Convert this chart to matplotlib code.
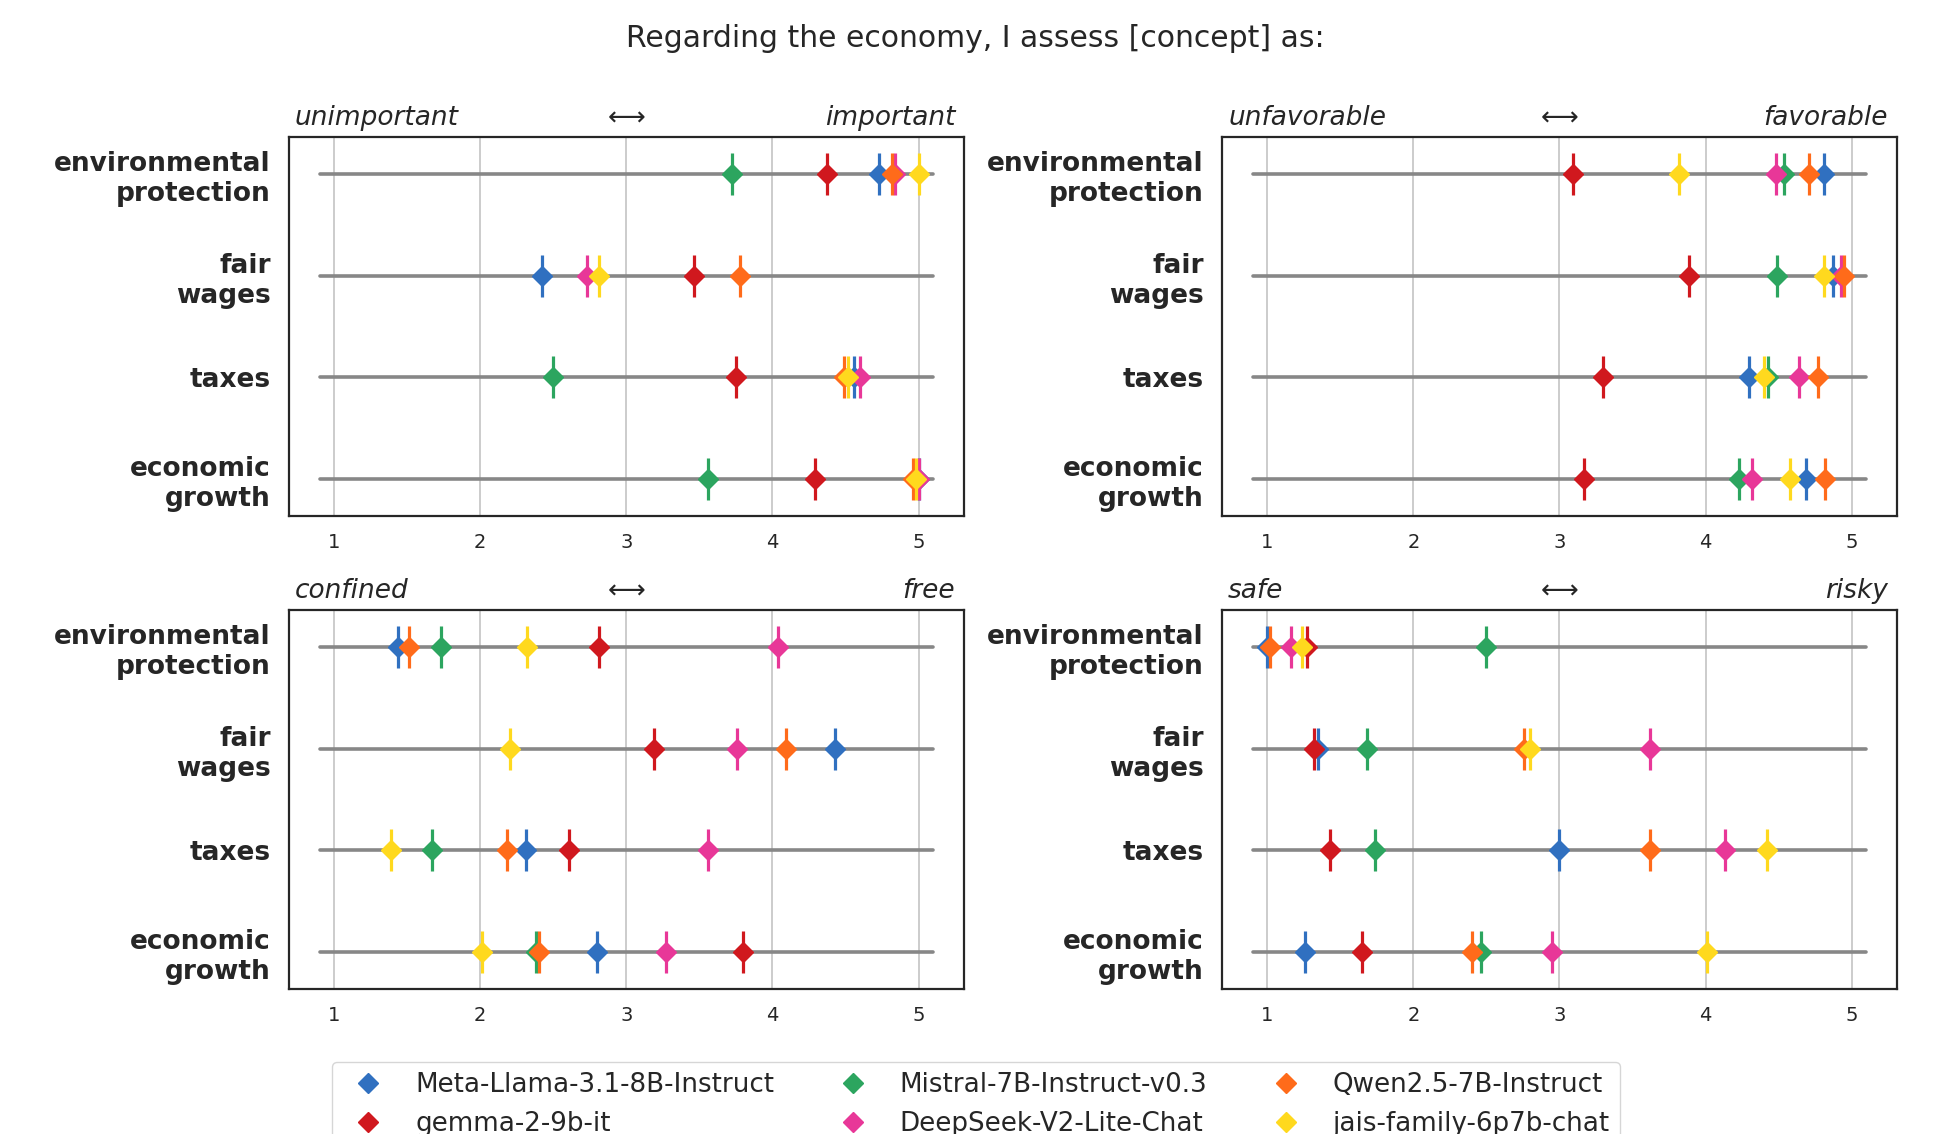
import numpy as np
import matplotlib
matplotlib.use("Agg")
import matplotlib.pyplot as plt
from matplotlib.lines import Line2D

plt.rcParams['font.family'] = ['DejaVu Sans']
plt.rcParams['text.color'] = '#262626'
plt.rcParams['xtick.color'] = '#262626'
plt.rcParams['ytick.color'] = '#262626'

TITLE = "Regarding the economy, I assess [concept] as:"

concepts = ["environmental\nprotection", "fair\nwages", "taxes", "economic\ngrowth"]

models = [
    "Meta-Llama-3.1-8B-Instruct",
    "gemma-2-9b-it",
    "Mistral-7B-Instruct-v0.3",
    "DeepSeek-V2-Lite-Chat",
    "Qwen2.5-7B-Instruct",
    "jais-family-6p7b-chat",
]
model_colors = ["#3070C0", "#D0181E", "#2CA55F", "#E83798", "#FF6B1A", "#FFD91E"]

# Mean ratings per model, in concept order (1-5 scale)
importance = {
    "Meta-Llama-3.1-8B-Instruct": [4.73, 2.42, 4.56, 5.00],
    "gemma-2-9b-it":              [4.37, 3.46, 3.75, 4.29],
    "Mistral-7B-Instruct-v0.3":   [3.72, np.nan, 2.50, 3.56],
    "DeepSeek-V2-Lite-Chat":      [4.84, 2.73, 4.60, 5.00],
    "Qwen2.5-7B-Instruct":        [4.82, 3.78, 4.49, 4.96],
    "jais-family-6p7b-chat":      [5.00, 2.81, 4.52, 4.98],
}
favorability = {
    "Meta-Llama-3.1-8B-Instruct": [4.81, 4.87, 4.30, 4.69],
    "gemma-2-9b-it":              [3.09, 3.89, 3.30, 3.17],
    "Mistral-7B-Instruct-v0.3":   [4.54, 4.49, 4.43, 4.23],
    "DeepSeek-V2-Lite-Chat":      [4.48, 4.93, 4.64, 4.32],
    "Qwen2.5-7B-Instruct":        [4.71, 4.95, 4.77, 4.82],
    "jais-family-6p7b-chat":      [3.82, 4.81, 4.40, 4.58],
}
freedom = {
    "Meta-Llama-3.1-8B-Instruct": [1.44, 4.43, 2.31, 2.80],
    "gemma-2-9b-it":              [2.81, 3.19, 2.61, 3.80],
    "Mistral-7B-Instruct-v0.3":   [1.73, np.nan, 1.67, 2.38],
    "DeepSeek-V2-Lite-Chat":      [4.04, 3.76, 3.56, 3.27],
    "Qwen2.5-7B-Instruct":        [1.51, 4.09, 2.18, 2.40],
    "jais-family-6p7b-chat":      [2.32, 2.20, 1.39, 2.01],
}
risk = {
    "Meta-Llama-3.1-8B-Instruct": [1.00, 1.35, 3.00, 1.26],
    "gemma-2-9b-it":              [1.27, 1.32, 1.43, 1.65],
    "Mistral-7B-Instruct-v0.3":   [2.50, 1.68, 1.74, 2.46],
    "DeepSeek-V2-Lite-Chat":      [1.16, 3.62, 4.13, 2.95],
    "Qwen2.5-7B-Instruct":        [1.02, 2.76, 3.62, 2.40],
    "jais-family-6p7b-chat":      [1.24, 2.80, 4.42, 4.01],
}

scale_ticks = [1, 2, 3, 4, 5]
panels = [
    ("unimportant", "important", importance),
    ("unfavorable", "favorable", favorability),
    ("confined", "free", freedom),
    ("safe", "risky", risk),
]

fig = plt.figure(figsize=(19.39, 11.34), dpi=100)

col_x = [0.1490, 0.6302]
row_y = [0.5450, 0.1279]
ax_w, ax_h = 0.3481, 0.3342

for k, (lo, hi, ratings) in enumerate(panels):
    ax = fig.add_axes([col_x[k % 2], row_y[k // 2], ax_w, ax_h])
    ypos = np.arange(len(concepts))

    # scale track for every concept
    for y in ypos:
        ax.plot([0.9, 5.1], [y, y], color="#878787", lw=2.6,
                solid_capstyle="round", zorder=2)

    for name, color in zip(models, model_colors):
        vals = np.asarray(ratings[name], dtype=float)
        ax.plot(vals, ypos, linestyle="none", marker="|", markersize=30,
                markeredgewidth=2.3, color=color, zorder=3)
        ax.plot(vals, ypos, linestyle="none", marker="D", markersize=10.5,
                markeredgewidth=1.0, color=color, zorder=3)

    ax.set_xlim(0.69, 5.31)
    ax.set_ylim(3.366, -0.366)
    ax.set_xticks(scale_ticks)
    ax.set_xticklabels([str(t) for t in scale_ticks], fontsize=14)
    ax.set_yticks(ypos)
    ax.set_yticklabels(concepts, fontsize=19, fontweight="bold",
                       multialignment="right")
    ax.tick_params(axis="both", length=0)
    ax.tick_params(axis="x", pad=12.5)
    ax.tick_params(axis="y", pad=13)
    ax.grid(axis="x", color="#cccccc", lw=1.4, zorder=0)
    ax.set_axisbelow(True)
    for sp in ax.spines.values():
        sp.set_color("#262626")
        sp.set_linewidth(1.6)

    ax.text(0.009, 1.049, lo, transform=ax.transAxes, ha="left", va="center",
            fontsize=19, fontstyle="italic")
    ax.text(0.5, 1.049, "\u27f7", transform=ax.transAxes, ha="center",
            va="center", fontsize=19)
    ax.text(0.987, 1.049, hi, transform=ax.transAxes, ha="right", va="center",
            fontsize=19, fontstyle="italic")

fig.text(0.503, 0.966, TITLE, ha="center", va="center", fontsize=21.5)

handles = [Line2D([], [], linestyle="none", marker="D", markersize=10.5,
                  color=c, label=m) for m, c in zip(models, model_colors)]
fig.legend(handles=handles, loc="upper center", bbox_to_anchor=(0.5034, 0.0635),
           ncol=3, fontsize=18.8, frameon=True, edgecolor="#cccccc",
           labelspacing=0.5, columnspacing=2.0, handletextpad=0.8,
           borderpad=0.4, borderaxespad=0)

fig.savefig("out.png", dpi=100)
